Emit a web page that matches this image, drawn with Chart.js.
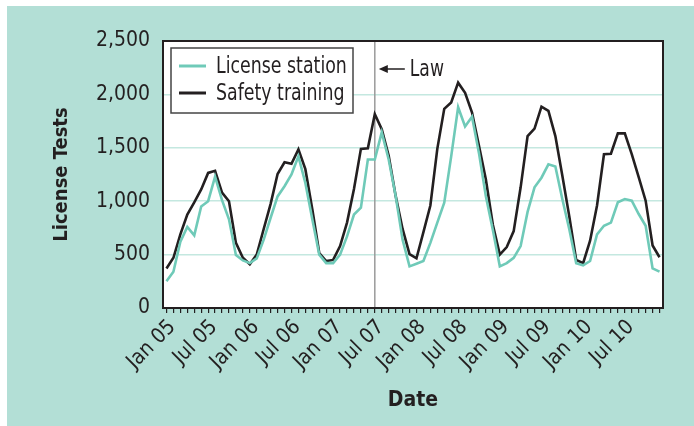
<!DOCTYPE html>
<html>
<head>
<meta charset="utf-8">
<script src="https://cdn.jsdelivr.net/npm/chart.js@4"></script>
<style>
  html, body { margin: 0; padding: 0; background: #fff; }
  #wrap { width: 694px; height: 426px; }
</style>
</head>
<body>
<div id="wrap"><canvas id="chart" width="694" height="426"></canvas></div>
<script>
// months Jan 05 .. Dec 10
const years = ['05', '06', '07', '08', '09', '10'];
const monthNames = ['Jan', 'Feb', 'Mar', 'Apr', 'May', 'Jun', 'Jul', 'Aug', 'Sep', 'Oct', 'Nov', 'Dec'];
const months = years.flatMap(y => monthNames.map(m => m + ' ' + y));

const licenseStation = [
  250, 340, 620, 760, 680, 950, 1000, 1230, 1010, 830, 495, 445,
  420, 465, 640, 845, 1045, 1140, 1250, 1420, 1170, 830, 500, 420,
  420, 500, 670, 875, 940, 1390, 1390, 1645, 1390, 1050, 640, 390,
  415, 440, 610, 800, 985, 1420, 1880, 1700, 1790, 1450, 1045, 730,
  390, 420, 470, 580, 900, 1130, 1220, 1345, 1325, 1020, 740, 420,
  400, 440, 690, 770, 800, 990, 1020, 1005, 880, 770, 370, 340
];
const safetyTraining = [
  370, 470, 690, 875, 990, 1110, 1265, 1285, 1080, 1000, 610, 470,
  410, 500, 740, 975, 1255, 1365, 1350, 1485, 1300, 925, 515, 440,
  450, 580, 800, 1115, 1490, 1495, 1815, 1675, 1425, 1050, 740, 505,
  465, 710, 960, 1490, 1865, 1925, 2110, 2015, 1830, 1520, 1200, 780,
  500, 570, 720, 1130, 1610, 1680, 1885, 1845, 1610, 1240, 860, 450,
  420, 630, 960, 1440, 1445, 1635, 1635, 1440, 1225, 1005, 585, 475
];
const seriesNames = ['License station', 'Safety training'];
const yTicks = [0, 500, 1000, 1500, 2000, 2500];
const lawMonth = 'Jul 07';

const FONT = "'Liberation Sans Narrow', 'DejaVu Sans Condensed', 'Arial Narrow', sans-serif";
const INK = '#231f20';
const TEAL = '#6fcab8';
const BG = '#b3dfd6';

// squeeze text horizontally, the original uses a condensed face
function narrowText(ctx, text, x, y, sx) {
  ctx.save();
  ctx.translate(x, y);
  ctx.scale(sx, 1);
  ctx.fillText(text, 0, 0);
  ctx.restore();
}

// background, plot frame, legend box and the "Law" marker
const decor = {
  id: 'decor',
  beforeDraw(chart) {
    const { ctx, chartArea: a } = chart;
    ctx.save();
    ctx.fillStyle = '#fff';
    ctx.fillRect(0, 0, chart.width, chart.height);
    ctx.fillStyle = BG;
    ctx.fillRect(7, 6, chart.width - 7, chart.height - 6);
    ctx.fillStyle = '#fff';
    ctx.fillRect(a.left, a.top, a.right - a.left, a.bottom - a.top);
    ctx.restore();
  },
  beforeDatasetsDraw(chart) {
    const { ctx, chartArea: a, scales } = chart;
    const x = scales.x.getPixelForValue(months.indexOf(lawMonth));
    ctx.save();
    ctx.strokeStyle = '#9a9a9a';
    ctx.lineWidth = 1.5;
    ctx.beginPath();
    ctx.moveTo(x, a.top);
    ctx.lineTo(x, a.bottom);
    ctx.stroke();
    // arrow + label
    const y = a.top + 28;
    ctx.strokeStyle = INK;
    ctx.fillStyle = INK;
    ctx.lineWidth = 1.5;
    ctx.beginPath();
    ctx.moveTo(x + 6, y);
    ctx.lineTo(x + 30, y);
    ctx.stroke();
    ctx.beginPath();
    ctx.moveTo(x + 4, y);
    ctx.lineTo(x + 13, y - 4);
    ctx.lineTo(x + 13, y + 4);
    ctx.closePath();
    ctx.fill();
    ctx.font = '23px ' + FONT;
    ctx.textBaseline = 'middle';
    narrowText(ctx, 'Law', x + 35, y + 1, 0.83);
    ctx.restore();
  },
  afterDraw(chart) {
    const { ctx, chartArea: a } = chart;
    ctx.save();
    ctx.strokeStyle = INK;
    ctx.lineWidth = 2;
    ctx.strokeRect(a.left, a.top, a.right - a.left, a.bottom - a.top);
    // legend
    const lx = a.left + 8, ly = a.top + 7, lw = 182, lh = 65;
    ctx.fillStyle = '#fff';
    ctx.fillRect(lx, ly, lw, lh);
    ctx.strokeStyle = '#444';
    ctx.lineWidth = 1.5;
    ctx.strokeRect(lx, ly, lw, lh);
    ctx.font = '23px ' + FONT;
    ctx.textBaseline = 'middle';
    chart.data.datasets.forEach((ds, i) => {
      const ry = ly + 18 + i * 27;
      ctx.strokeStyle = ds.borderColor;
      ctx.lineWidth = 3;
      ctx.beginPath();
      ctx.moveTo(lx + 8, ry);
      ctx.lineTo(lx + 35, ry);
      ctx.stroke();
      ctx.fillStyle = INK;
      narrowText(ctx, ds.label, lx + 45, ry + 1, 0.84);
    });
    ctx.restore();
  }
};

new Chart(document.getElementById('chart'), {
  type: 'line',
  data: {
    labels: months,
    datasets: [
      { label: seriesNames[0], data: licenseStation, borderColor: TEAL, borderWidth: 2.6, pointRadius: 0, tension: 0 },
      { label: seriesNames[1], data: safetyTraining, borderColor: INK, borderWidth: 2.6, pointRadius: 0, tension: 0 }
    ]
  },
  options: {
    responsive: false,
    animation: false,
    devicePixelRatio: 1,
    layout: { padding: { left: 0, top: 41, right: 31, bottom: 0 } },
    plugins: { legend: { display: false }, tooltip: { enabled: false } },
    scales: {
      x: {
        offset: true,
        afterFit: s => { s.height = 118; },
        border: { display: false },
        grid: { drawOnChartArea: false, drawTicks: true, tickLength: 5, color: INK, lineWidth: 1.2, offset: false },
        ticks: {
          autoSkip: false, minRotation: 45, maxRotation: 45, padding: 2, labelOffset: 6,
          color: INK, font: { family: FONT, size: 21 },
          callback: (v, i) => (i % 6 === 0 ? months[i] : '')
        },
        title: { display: true, text: 'Date', color: INK, font: { family: FONT, size: 21, weight: 'bold' }, padding: { top: 0, bottom: 13 } }
      },
      y: {
        min: 0, max: 2500,
        afterFit: s => { s.width = 163; },
        afterBuildTicks: s => { s.ticks = yTicks.map(v => ({ value: v })); },
        border: { display: false },
        grid: { drawTicks: false, color: c => (c.tick.value === 0 || c.tick.value === 2500 ? 'rgba(0,0,0,0)' : '#c4e8e0'), lineWidth: 1.5 },
        ticks: { padding: 13, color: INK, font: { family: FONT, size: 21 }, callback: v => v.toLocaleString('en-US') },
        title: { display: true, text: 'License Tests', color: INK, font: { family: FONT, size: 20, weight: 'bold' }, padding: { top: 50, bottom: 0 } }
      }
    }
  },
  plugins: [decor]
});
</script>
</body>
</html>
